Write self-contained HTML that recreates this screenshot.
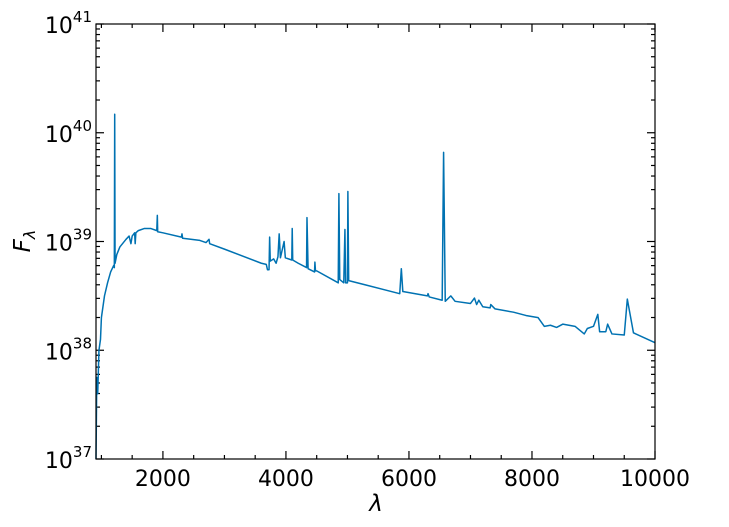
<!DOCTYPE html>
<html><head><meta charset="utf-8"><style>
body{margin:0;background:#fff}
svg text{font-family:"DejaVu Sans","Liberation Sans",sans-serif;fill:#000}
</style></head><body>
<svg id="chart" width="729" height="522" viewBox="0 0 729 522" xmlns="http://www.w3.org/2000/svg">
<g id="ticks"></g>
<path id="line" fill="none" stroke="#0072b2" stroke-width="1.5" stroke-linejoin="round"/>
<rect x="96" y="24" width="559" height="435" fill="none" stroke="#000" stroke-width="1.2"/>
<text x="376" y="511" font-size="23" font-style="italic" text-anchor="middle">λ</text>
<text transform="translate(30,241) rotate(-90)" font-size="23" text-anchor="middle"><tspan font-style="italic">F</tspan><tspan font-style="italic" font-size="16" dy="5">λ</tspan></text>
</svg>
<script>
const wavelengths=[912,925,940,960,985,1000,1050,1100,1150,1200,1210,1216,1222,1250,1300,1400,1450,1480,1500,1540,1549,1560,1600,1700,1800,1900,1909,1915,2000,2300,2310,2320,2600,2700,2750,2760,3000,3600,3680,3700,3725,3735,3745,3800,3840,3870,3890,3910,3970,3990,4095,4102,4110,4200,4335,4342,4360,4465,4471,4480,4500,4850,4861,4875,4940,4959,4970,5000,5007,5020,5300,5850,5876,5900,6300,6310,6330,6540,6563,6590,6680,6750,7000,7065,7100,7136,7200,7320,7330,7400,7700,7900,8100,8200,8300,8400,8500,8700,8850,8900,9000,9070,9100,9200,9230,9300,9500,9550,9650,10000];
const logFlux=[37.0,37.75,37.6,38.0,38.1,38.3,38.5,38.62,38.72,38.78,38.76,40.17,38.8,38.88,38.95,39.02,39.05,38.98,39.05,39.08,38.98,39.08,39.1,39.12,39.12,39.1,39.24,39.09,39.08,39.04,39.07,39.03,39.01,38.99,39.02,38.98,38.93,38.8,38.79,38.74,38.74,39.04,38.82,38.84,38.8,38.86,39.07,38.85,39.0,38.85,38.83,39.12,38.83,38.8,38.76,39.22,38.75,38.72,38.81,38.73,38.73,38.62,39.44,38.65,38.62,39.11,38.62,38.62,39.46,38.64,38.6,38.52,38.75,38.54,38.5,38.52,38.49,38.46,39.82,38.45,38.5,38.45,38.43,38.48,38.42,38.46,38.4,38.39,38.42,38.38,38.35,38.32,38.3,38.22,38.23,38.21,38.24,38.22,38.15,38.2,38.22,38.33,38.17,38.17,38.24,38.15,38.14,38.47,38.16,38.07];
const xTicks=[2000,4000,6000,8000,10000];
const yDecades=[37,38,39,40,41];
const X0=96,X1=655,Y0=459,Y1=24,XMIN=912,XMAX=10000,YMIN=37,YMAX=41;
const sx=v=>X0+(v-XMIN)/(XMAX-XMIN)*(X1-X0);
const sy=v=>Y0-(v-YMIN)/(YMAX-YMIN)*(Y0-Y1);
document.getElementById('line').setAttribute('d',wavelengths.map((w,i)=>(i?'L':'M')+sx(w).toFixed(2)+','+sy(logFlux[i]).toFixed(2)).join(''));
const g=document.getElementById('ticks');const NS='http://www.w3.org/2000/svg';
function ln(x1,y1,x2,y2,name){const l=document.createElementNS(NS,'line');l.setAttribute('x1',x1);l.setAttribute('y1',y1);l.setAttribute('x2',x2);l.setAttribute('y2',y2);l.setAttribute('stroke','#000');l.setAttribute('stroke-width','1.2');


g.appendChild(l);}
for(let v=1000;v<=10000;v+=500){const x=sx(v);const maj=v%2000===0;const L=maj?8:4;ln(x,Y0,x,Y0-L,'x-tick');ln(x,Y1,x,Y1+L,'x-tick-top');}
xTicks.forEach(v=>{const t=document.createElementNS(NS,'text');t.setAttribute('x',sx(v));t.setAttribute('y',486);t.setAttribute('font-size','22');t.setAttribute('text-anchor','middle');t.textContent=v;


g.appendChild(t);});
yDecades.forEach(d=>{const y=sy(d);ln(X0,y,X0+8,y,'y-tick');ln(X1,y,X1-8,y,'y-tick-right');
const t=document.createElementNS(NS,'text');t.setAttribute('x',92);t.setAttribute('y',y+9);t.setAttribute('font-size','22');t.setAttribute('text-anchor','end');
t.innerHTML='10<tspan font-size="15" dy="-11">'+d+'</tspan>';


g.appendChild(t);
if(d<YMAX)for(let m=2;m<=9;m++){const yy=sy(d+Math.log10(m));ln(X0,yy,X0+4,yy,'y-minor-tick');ln(X1,yy,X1-4,yy,'y-minor-tick-right');}});
</script>
</body></html>
